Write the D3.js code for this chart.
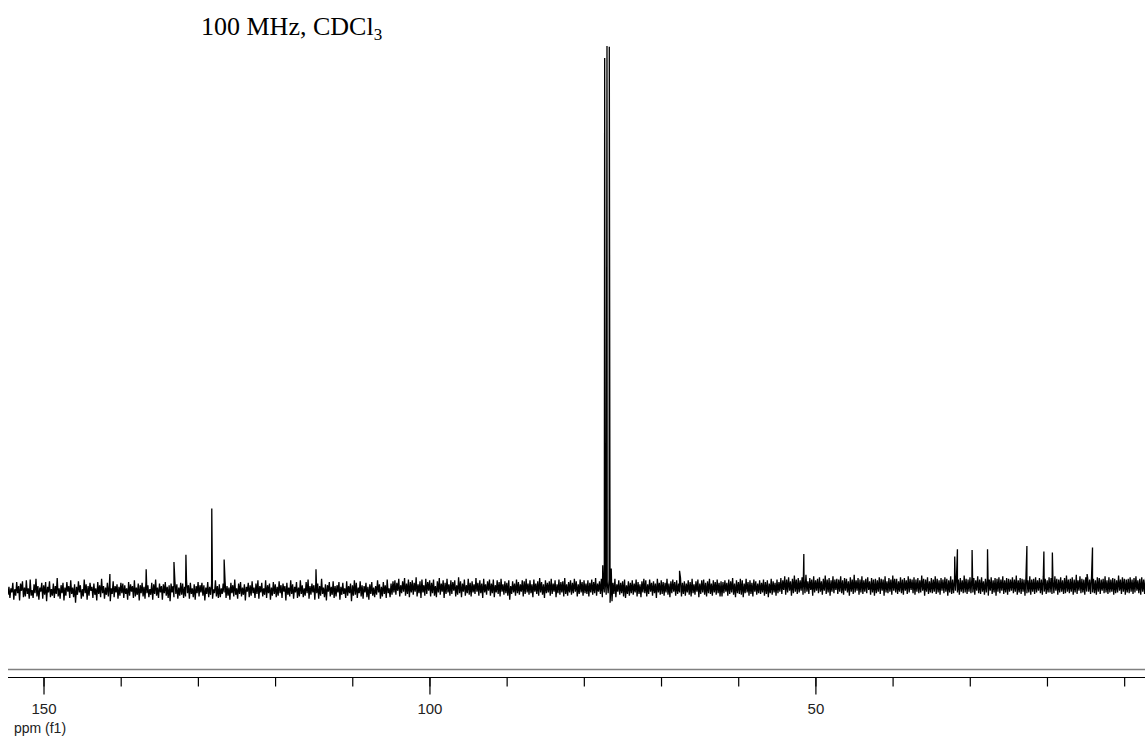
<!DOCTYPE html>
<html>
<head>
<meta charset="utf-8">
<script src="https://cdn.jsdelivr.net/npm/d3@7"></script>
<style>
  body { margin: 0; background: #fff; }
  svg { display: block; }
</style>
</head>
<body>
<svg id="spectrum" width="1145" height="738"></svg>
<script>
// ppm window shown (f1 axis runs right to left)
var ppmLeft = 154.6, ppmRight = 7.3;
var majorTicks = [150, 100, 50];
var minorTicks = [150, 140, 130, 120, 110, 100, 90, 80, 70, 60, 50, 40, 30, 20, 10];

// baseline noise, one sample every 0.125 ppm starting at ppmLeft
var noiseStart = 154.6, noiseStep = 0.125;
var noise = [
  -6, 4, -10, 2, -3, 9, -12, 1, -7, 10, -4, 5, -13, 8, -1, 11, -9, 3, -8, 12,
  -5, 2, -11, 13, -7, 0, -10, 7, -4, 14, -8, 5, -12, 3, -2, 9, -11, 6, -6, 10,
  -14, 4, -3, 11, -9, 1, -7, 8, -10, 5, -5, 15, -8, 2, -11, 6, -4, 9, -13, 3,
  -7, 10, -2, 5, -10, 12, -5, 3, -9, 7, -16, 4, -6, 11, -3, 6, -11, 1, -8, 13,
  -4, 7, -12, 5, -7, 9, -1, 4, -10, 8, -6, 2, -13, 10, -5, 6, -9, 14, -4, 5,
  -11, 3, -6, 9, -8, 6, -14, 2, -5, 11, -9, 5, -3, 7, -11, 4, -7, 9, -4, 8,
  -10, 6, -5, 2, -12, 10, -7, 7, -2, 5, -10, 12, -8, 3, -6, 8, -13, 6, -4, 9,
  -8, 4, -11, 11, -4, 6, -9, 1, -6, 9, -12, 7, -5, 13, -7, 3, -10, 8, -3, 5,
  -12, 7, -4, 10, -7, 4, -10, 6, -14, 8, -3, 5, -9, 11, -5, 7, -11, 3, -7, 9,
  -6, 8, -10, 4, -8, 12, -4, 6, -11, 9, -5, 2, -9, 7, -12, 5, -4, 10, -8, 6,
  -3, 9, -7, 6, -13, 3, -5, 10, -9, 4, -6, 8, -11, 1, -4, 12, -8, 5, -10, 7,
  -9, 2, -5, 8, -3, 11, -10, 5, -7, 3, -12, 9, -4, 6, -8, 13, -6, 2, -11, 8,
  -5, 10, -8, 3, -6, 7, -13, 4, -2, 9, -9, 6, -7, 11, -4, 3, -10, 8, -5, 12,
  -11, 5, -3, 9, -8, 2, -6, 12, -10, 6, -4, 8, -12, 3, -7, 10, -5, 7, -9, 4,
  -7, 11, -4, 6, -10, 8, -2, 5, -13, 9, -6, 3, -8, 12, -5, 7, -11, 4, -3, 10,
  -10, 3, -8, 12, -5, 6, -9, 2, -7, 10, -4, 13, -11, 5, -6, 8, -3, 6, -12, 9,
  -4, 8, -11, 5, -7, 14, -5, 3, -9, 7, -13, 6, -2, 10, -8, 4, -6, 11, -10, 5,
  -8, 6, -3, 10, -12, 4, -6, 9, -5, 2, -10, 11, -7, 5, -4, 8, -14, 6, -7, 12,
  -6, 9, -10, 3, -4, 11, -8, 6, -11, 5, -3, 9, -9, 4, -12, 7, -5, 10, -7, 3,
  -9, 5, -6, 12, -3, 7, -11, 4, -8, 10, -5, 6, -10, 13, -4, 2, -9, 8, -6, 11,
  -3, 12, -6, 9, -1, 14, -8, 6, -4, 11, -2, 15, -7, 8, -5, 13, -9, 10, -3, 12,
  -6, 9, -2, 16, -8, 7, -4, 11, -10, 13, -3, 6, -7, 14, -5, 10, -1, 12, -8, 9,
  -4, 13, -7, 5, -9, 11, -3, 15, -6, 8, -2, 12, -10, 9, -5, 14, -3, 7, -7, 12,
  -5, 10, -1, 12, -8, 6, -6, 16, -4, 11, -9, 8, -2, 13, -7, 6, -4, 14, -6, 9,
  -8, 11, -3, 7, -5, 15, -2, 9, -7, 12, -4, 8, -10, 14, -3, 7, -6, 11, -1, 13,
  -7, 8, -4, 13, -9, 6, -3, 12, -5, 10, -8, 14, -2, 7, -6, 11, -4, 9, -7, 12,
  -12, 5, -5, 11, -3, 8, -7, 13, -4, 10, -6, 7, -2, 12, -8, 11, -5, 14, -3, 8,
  -6, 12, -4, 7, -9, 13, -2, 8, -5, 11, -7, 15, -3, 10, -6, 7, -10, 12, -4, 9,
  -3, 11, -7, 14, -5, 8, -2, 12, -9, 7, -4, 13, -6, 10, -3, 11, -8, 15, -5, 7,
  -7, 10, -3, 12, -6, 9, -4, 14, -2, 11, -8, 7, -5, 13, -3, 10, -7, 12, -4, 8,
  -5, 12, -8, 9, -3, 13, -6, 10, -4, 15, -7, 8, -2, 11, -5, 14, -9, 7, -3, 12,
  -6, 10, -4, 13, -16, 6, -14, 9, -5, 14, -9, 7, -2, 12, -6, 9, -4, 11, -8, 13,
  -10, 6, -5, 11, -7, 9, -4, 12, -6, 8, -3, 13, -8, 10, -5, 7, -9, 11, -3, 14,
  -4, 12, -8, 7, -5, 13, -2, 9, -7, 11, -4, 8, -10, 14, -3, 9, -6, 12, -5, 10,
  -7, 9, -3, 14, -6, 8, -9, 11, -4, 13, -2, 10, -7, 12, -5, 8, -3, 15, -8, 9,
  -5, 11, -7, 8, -3, 12, -6, 10, -8, 14, -4, 7, -6, 11, -2, 13, -9, 8, -5, 12,
  -3, 13, -6, 9, -8, 11, -4, 14, -5, 8, -7, 12, -3, 10, -6, 13, -4, 9, -8, 11,
  -8, 10, -4, 12, -2, 9, -7, 13, -5, 11, -3, 15, -6, 8, -9, 12, -4, 10, -5, 14,
  -6, 12, -9, 8, -4, 14, -3, 10, -7, 12, -5, 9, -8, 13, -2, 11, -6, 8, -4, 12,
  -5, 9, -3, 13, -7, 10, -5, 12, -9, 8, -4, 14, -6, 11, -3, 9, -7, 13, -4, 10,
  -2, 15, -5, 12, 0, 17, -6, 13, -3, 16, -1, 11, -7, 14, -4, 18, -2, 13, -5, 15,
  -3, 12, -1, 16, -6, 14, -4, 19, -2, 11, -5, 15, 0, 13, -7, 17, -3, 12, -1, 14,
  -4, 16, -2, 11, -6, 14, -1, 18, -5, 13, -3, 15, -7, 12, -2, 17, -4, 13, 0, 14,
  -5, 13, -2, 17, -4, 12, -6, 15, -1, 14, -3, 11, -7, 16, -2, 13, -5, 19, -3, 12,
  -1, 15, -6, 13, -3, 17, -5, 12, -2, 14, -4, 16, 0, 11, -6, 15, -3, 13, -7, 14,
  -4, 12, -2, 16, -5, 14, -1, 13, -7, 17, -3, 11, -4, 15, -2, 13, -6, 18, -1, 14,
  -3, 14, -5, 11, -2, 16, -4, 13, -6, 15, -1, 12, -5, 17, -3, 14, 0, 13, -4, 16,
  -6, 13, -2, 15, -4, 12, -3, 18, -1, 14, -7, 13, -2, 16, -5, 11, -3, 15, -4, 13,
  -2, 17, -5, 14, -3, 12, -6, 15, -1, 13, -4, 16, -2, 14, -7, 12, -3, 17, -5, 13,
  -4, 14, -1, 16, -3, 13, -6, 15, -2, 12, -4, 18, -3, 14, -5, 13, -2, 16, -4, 15,
  -3, 15, -6, 12, -1, 17, -4, 13, -5, 16, -2, 11, -6, 14, -3, 15, -7, 13, -1, 16,
  -5, 12, -3, 15, -7, 14, -2, 16, -4, 13, -1, 17, -5, 12, -3, 15, -6, 14, -2, 13,
  -1, 16, -4, 13, -2, 18, -6, 12, -3, 15, -5, 14, -2, 13, -7, 16, -4, 12, -3, 17,
  -6, 13, -2, 14, -5, 16, -3, 12, -1, 15, -4, 13, -6, 17, -2, 14, -5, 12, -3, 16,
  -3, 15, -5, 12, -4, 17, -1, 14, -6, 13, -3, 16, -2, 12, -5, 15, -4, 18, -2, 13,
  -4, 14, -2, 16, -6, 13, -3, 15, -5, 12, -1, 17, -4, 14, -3, 13, -6, 16, -2, 15,
  -2, 13, -5, 17, -3, 14, -4, 12, -6, 16, -2, 15, -5, 13, -1, 14, -4, 17, -3, 12,
  -5, 16, -3, 13, -2, 15, -6, 14, -4, 12, -3, 18, -1, 13, -5, 16, -2, 14, -6, 13,
  -3, 14, -4, 16, -2, 13, -5, 15, -3, 17, -1, 12, -4, 14, -6, 16, -2, 13, -5, 15
];

// peak positions (ppm) and heights (solvent centre line = 680)
var peakPpm = [141.4, 136.7, 133.1, 131.55, 128.2, 126.6, 114.7,
  77.55, 77.3, 77.0, 76.7, 76.45, 67.6, 51.5,
  31.95, 31.6, 29.7, 27.7, 22.6, 20.4, 19.3, 16.2, 14.8, 14.1];
var peakHeight = [20, 26, 35, 44, 102, 38, 26,
  31, 665, 680, 679, 27, 24, 45,
  42, 51, 50, 51, 55, 48, 47, 19, 20, 53];

var title = "100 MHz, CDCl";
var titleSub = "3";
var axisLabel = "ppm (f1)";

var svg = d3.select("#spectrum");
var plotLeft = 8, plotRight = 1145;

var x = d3.scaleLinear().domain([ppmLeft, ppmRight]).range([plotLeft, plotRight]);
var y = d3.scaleLinear().domain([0, 680]).range([590, 46]);

// merge noise samples and peaks into one trace
var trace = noise.map(function(v, i) { return {ppm: noiseStart - i * noiseStep, v: v}; });
peakPpm.forEach(function(p, i) { trace.push({ppm: p, v: peakHeight[i]}); });
trace.sort(function(a, b) { return b.ppm - a.ppm; });

svg.append("clipPath").attr("id", "clip")
  .append("rect").attr("x", plotLeft).attr("y", 0)
  .attr("width", plotRight - plotLeft).attr("height", 660);

var line = d3.line()
  .x(function(d) { return x(d.ppm); })
  .y(function(d) { return y(d.v); });

svg.append("path")
  .datum(trace)
  .attr("clip-path", "url(#clip)")
  .attr("d", line)
  .attr("fill", "none")
  .attr("stroke", "#000")
  .attr("stroke-width", 1.3)
  .attr("stroke-linejoin", "miter");

// title
var t = svg.append("text")
  .attr("x", 201)
  .attr("y", 35)
  .style("font-family", "'Liberation Serif', 'Times New Roman', serif")
  .style("font-size", "26px")
  .attr("fill", "#000")
  .text(title);
t.append("tspan")
  .attr("dy", 5)
  .style("font-size", "17px")
  .text(titleSub);

// axis: gray rule + black rule with ticks
svg.append("line")
  .attr("x1", plotLeft).attr("x2", plotRight)
  .attr("y1", 669.5).attr("y2", 669.5)
  .attr("stroke", "#808080").attr("stroke-width", 1.3);

var axisY = 677.5;
svg.append("line")
  .attr("x1", plotLeft).attr("x2", plotRight)
  .attr("y1", axisY).attr("y2", axisY)
  .attr("stroke", "#000").attr("stroke-width", 1);

var minorAxis = svg.append("g")
  .attr("transform", "translate(0," + axisY + ")")
  .call(d3.axisBottom(x).tickValues(minorTicks).tickSize(9).tickFormat(""));
minorAxis.select(".domain").remove();

var majorAxis = svg.append("g")
  .attr("transform", "translate(0," + axisY + ")")
  .call(d3.axisBottom(x).tickValues(majorTicks).tickSize(17).tickPadding(9));
majorAxis.select(".domain").remove();
majorAxis.selectAll("text")
  .style("font-family", "'Liberation Sans', Arial, sans-serif")
  .style("font-size", "15px")
  .attr("fill", "#222");

svg.selectAll(".tick line").attr("stroke", "#000").attr("stroke-width", 1.2);

svg.append("text")
  .attr("x", 40)
  .attr("y", 733)
  .attr("text-anchor", "middle")
  .style("font-family", "'Liberation Sans', Arial, sans-serif")
  .style("font-size", "14px")
  .attr("fill", "#222")
  .text(axisLabel);
</script>
</body>
</html>
